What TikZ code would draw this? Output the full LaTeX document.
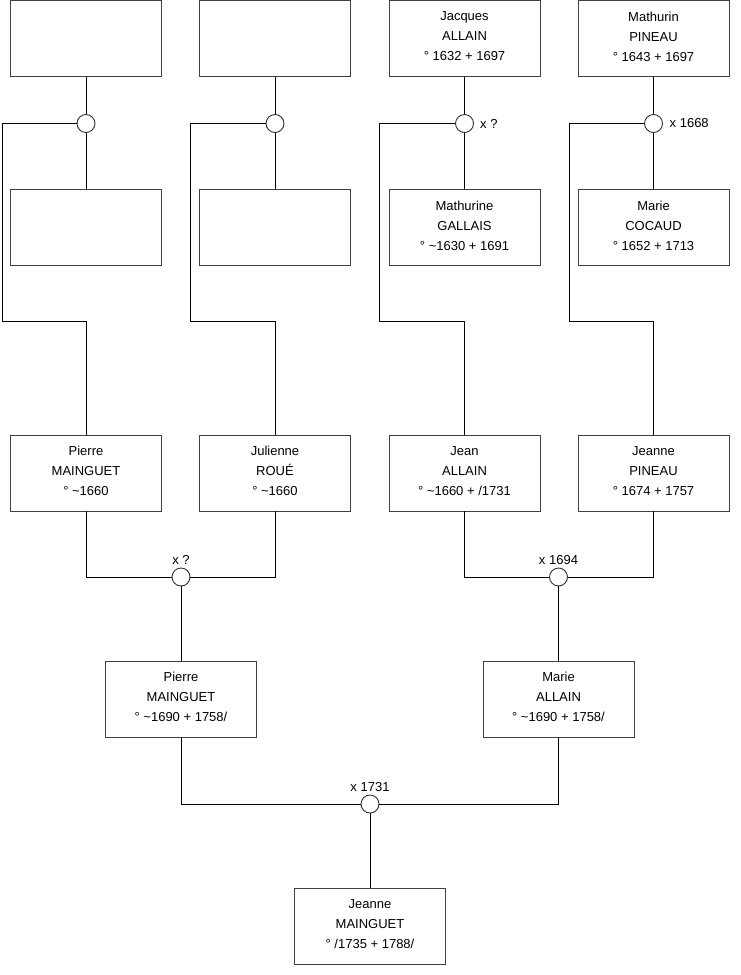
\documentclass[tikz,border=0pt]{standalone}
\usepackage{fontspec}
\setmainfont{Liberation Sans}
\newcommand{\dn}{\rule[-4pt]{0pt}{4pt}}
\begin{document}
\begin{tikzpicture}[x=1pt,y=-1pt,
  person/.style={draw=black!75,line width=0.9pt,minimum width=151pt,minimum height=76pt,inner sep=0pt,align=center,font=\fontsize{13}{20}\selectfont,fill=white},
  union/.style={draw=black!80,line width=0.9pt,circle,minimum size=18pt,inner sep=0pt,fill=white},
  link/.style={draw=black,line width=0.9pt},
  lbl/.style={font=\fontsize{13}{15}\selectfont,inner sep=0pt}]
\useasboundingbox (0,0) rectangle (740,975);
% top row
\node[person] (a1) at (86,38.5) {};
\node[person] (a2) at (275,38.5) {};
\node[person] (a3) at (464.5,38.5) {Jacques\\ALLAIN\\° 1632 + 1697\dn};
\node[person] (a4) at (653.5,38.5) {Mathurin\\PINEAU\\° 1643 + 1697\dn};
% second row
\node[person] (b1) at (86,227.5) {};
\node[person] (b2) at (275,227.5) {};
\node[person] (b3) at (464.5,227.5) {Mathurine\\GALLAIS\\° \textasciitilde1630 + 1691\dn};
\node[person] (b4) at (653.5,227.5) {Marie\\COCAUD\\° 1652 + 1713\dn};
% unions top
\node[union] (u1) at (86,123.5) {};
\node[union] (u2) at (275,123.5) {};
\node[union] (u3) at (464.5,123.5) {};
\node[union] (u4) at (653.5,123.5) {};
\node[lbl,anchor=west] (l3) at (480,123.5) {x ?};
\node[lbl,anchor=west] (l4) at (669.5,123.5) {x 1668};
% third row
\node[person] (c1) at (86,473) {Pierre\\MAINGUET\\° \textasciitilde1660\dn};
\node[person] (c2) at (275,473) {Julienne\\ROUÉ\\° \textasciitilde1660\dn};
\node[person] (c3) at (464.5,473) {Jean\\ALLAIN\\° \textasciitilde1660 + /1731\dn};
\node[person] (c4) at (653.5,473) {Jeanne\\PINEAU\\° 1674 + 1757\dn};
% corner coordinates
\coordinate (k1a) at (2,123.5);   \coordinate (k1b) at (2,321.5);   \coordinate (k1c) at (86,321.5);
\coordinate (k2a) at (190.5,123.5); \coordinate (k2b) at (190.5,321.5); \coordinate (k2c) at (275,321.5);
\coordinate (k3a) at (379.5,123.5); \coordinate (k3b) at (379.5,321.5); \coordinate (k3c) at (464.5,321.5);
\coordinate (k4a) at (569.5,123.5); \coordinate (k4b) at (569.5,321.5); \coordinate (k4c) at (653.5,321.5);
% links top
\foreach \i in {1,2,3,4}{
  \draw[link] (a\i.south) -- (u\i.north);
  \draw[link] (u\i.south) -- (b\i.north);
  \draw[link] (u\i.west) -- (k\i a) -- (k\i b) -- (k\i c) -- (c\i.north);
}
% second-level unions
\node[union] (v1) at (181,577) {};
\node[union] (v2) at (558.5,577) {};
\node[lbl,anchor=south] (m1) at (181,565) {x ?};
\node[lbl,anchor=south] (m2) at (558.5,565) {x 1694};
\node[person] (d1) at (181,699) {Pierre\\MAINGUET\\° \textasciitilde1690 + 1758/\dn};
\node[person] (d2) at (558.5,699) {Marie\\ALLAIN\\° \textasciitilde1690 + 1758/\dn};
\draw[link] (c1.south) |- (v1.west);
\draw[link] (c2.south) |- (v1.east);
\draw[link] (c3.south) |- (v2.west);
\draw[link] (c4.south) |- (v2.east);
\draw[link] (v1.south) -- (d1.north);
\draw[link] (v2.south) -- (d2.north);
% last union
\node[union] (w) at (370,804) {};
\node[lbl,anchor=south] (n) at (370,792) {x 1731};
\node[person] (e) at (370,926.5) {Jeanne\\MAINGUET\\° /1735 + 1788/\dn};
\draw[link] (d1.south) |- (w.west);
\draw[link] (d2.south) |- (w.east);
\draw[link] (w.south) -- (e.north);
\end{tikzpicture}
\end{document}
